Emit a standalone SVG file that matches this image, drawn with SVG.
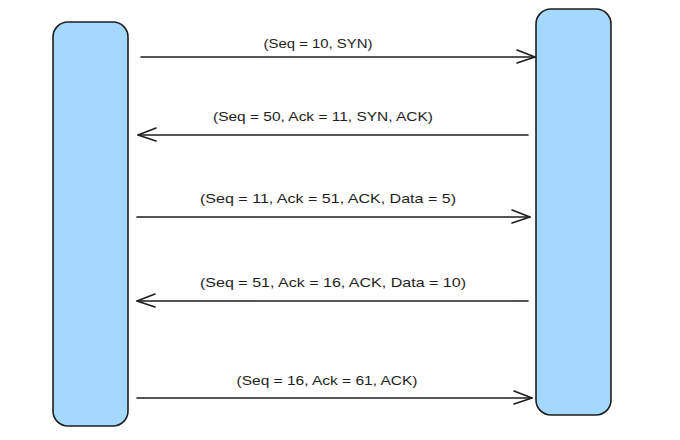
<svg xmlns="http://www.w3.org/2000/svg" width="680" height="440" viewBox="0 0 680 440">
<defs>
<style>
.box{fill:#a5d8ff;stroke:#1e1e1e;stroke-width:1.6}
.ln{stroke:#1e1e1e;stroke-width:1.6;fill:none;stroke-linecap:round}
.ah{stroke:#1e1e1e;stroke-width:1.6;fill:none;stroke-linecap:round;stroke-linejoin:round}
.lbl{font-family:"Liberation Sans",Arial,sans-serif;font-size:13.5px;fill:#1e1e1e;text-anchor:middle}
</style>
</defs>
<rect width="680" height="440" fill="#ffffff"/>
<g id="client"><rect class="box" x="53" y="22" width="75" height="404" rx="15"/></g>
<g id="server"><rect class="box" x="536" y="9" width="75" height="406" rx="15"/></g>
<g id="connectors">
<g id="m1"><line class="ln" x1="141" y1="57" x2="535" y2="57"/><polyline class="ah" points="517,50 535,57 517,63"/></g>
<g id="m2"><line class="ln" x1="528" y1="135" x2="138" y2="135"/><polyline class="ah" points="156,128 138,135 156,141"/></g>
<g id="m3"><line class="ln" x1="137" y1="217" x2="530" y2="217"/><polyline class="ah" points="512,210 530,217 512,223"/></g>
<g id="m4"><line class="ln" x1="528" y1="301" x2="137" y2="301"/><polyline class="ah" points="155,294 137,301 155,307"/></g>
<g id="m5"><line class="ln" x1="137" y1="398" x2="532" y2="398"/><polyline class="ah" points="514,391 532,398 514,404"/></g>
</g>
<g id="labels">
<text class="lbl" x="318" y="48" textLength="109" lengthAdjust="spacingAndGlyphs">(Seq = 10, SYN)</text>
<text class="lbl" x="323" y="121" textLength="220" lengthAdjust="spacingAndGlyphs">(Seq = 50, Ack = 11, SYN, ACK)</text>
<text class="lbl" x="328" y="203" textLength="256" lengthAdjust="spacingAndGlyphs">(Seq = 11, Ack = 51, ACK, Data = 5)</text>
<text class="lbl" x="333" y="287" textLength="266" lengthAdjust="spacingAndGlyphs">(Seq = 51, Ack = 16, ACK, Data = 10)</text>
<text class="lbl" x="327" y="385" textLength="181" lengthAdjust="spacingAndGlyphs">(Seq = 16, Ack = 61, ACK)</text>
</g>
</svg>
